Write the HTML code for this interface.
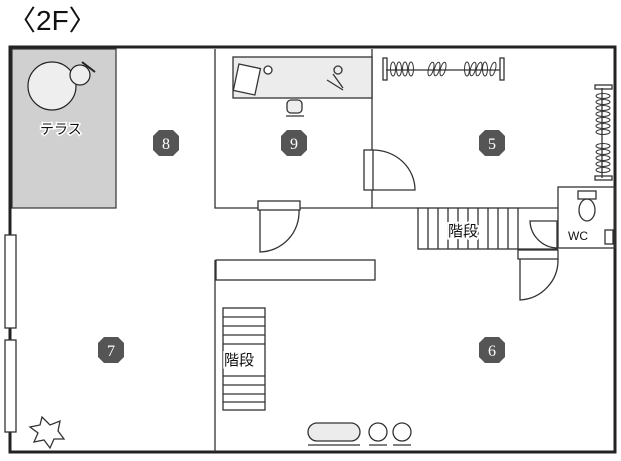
<!DOCTYPE html>
<html><head><meta charset="utf-8"><style>
html,body{margin:0;padding:0;background:#fff;width:621px;height:461px;overflow:hidden}
svg{display:block}
text{font-family:"Liberation Sans","Noto Sans CJK JP",sans-serif}
</style></head><body>
<svg width="621" height="461" viewBox="0 0 621 461" xmlns="http://www.w3.org/2000/svg">
<defs>
<g id="oct"><polygon points="-7,-13 7,-13 13,-7 13,7 7,13 -7,13 -13,7 -13,-7" fill="#555"/></g>
</defs>
<text x="8" y="30" font-size="28" fill="#111">〈2F〉</text>
<rect x="12" y="49" width="104" height="159" fill="#d0d0d0" stroke="#333" stroke-width="1.2"/>
<circle cx="52" cy="86" r="24" fill="#eee" stroke="#222" stroke-width="1.2"/>
<circle cx="80" cy="75" r="10" fill="#eee" stroke="#222" stroke-width="1.2"/>
<line x1="82" y1="62" x2="95" y2="72" stroke="#222" stroke-width="2"/>
<text x="40" y="134" font-size="14" fill="#111" stroke="#fff" stroke-width="3" paint-order="stroke">テラス</text>
<rect x="10" y="47" width="605" height="405" fill="none" stroke="#222" stroke-width="3"/>
<g stroke="#333" stroke-width="1.3" fill="none">
<path d="M215 49 V208 H258 M300 208 H372 V190 M372 150 V49"/>
<path d="M372 208 H418 M518 208 H558"/>
<rect x="418" y="208" width="100" height="41" fill="#fff"/>
<path d="M428 208v41M438 208v41M448 208v41M458 208v41M468 208v41M478 208v41M488 208v41M498 208v41M508 208v41"/>
<rect x="558" y="187" width="57" height="61"/>
<path d="M518 249 H558"/>
<rect x="258" y="201" width="42" height="9" fill="#fff"/>
<path d="M260 210 V252 A40 40 0 0 0 299 210"/>
<rect x="364" y="150" width="9" height="40" fill="#fff"/>
<path d="M373 150 A42 40 0 0 1 415 190 H373"/>
<path d="M530 221 A28 28 0 0 0 557 248 V221 Z"/>
<rect x="518" y="250" width="40" height="9" fill="#fff"/>
<path d="M520 259 V300 A40 40 0 0 0 558 259"/>
<rect x="216" y="260" width="159" height="20" fill="#fff"/>
<path d="M215 260 V452"/>
<rect x="223" y="308" width="42" height="102" fill="#fff"/>
<path d="M223 317h42M223 326h42M223 335h42M223 344h42M223 376h42M223 385h42M223 394h42M223 402h42"/>
<rect x="5" y="235" width="11" height="93" fill="#fff"/>
<rect x="5" y="340" width="11" height="92" fill="#fff"/>
<rect x="233" y="57" width="139" height="41" fill="#ececec"/>
<rect x="236" y="66" width="22" height="27" fill="#fff" transform="rotate(12 247 79)"/>
<circle cx="268" cy="70" r="4" fill="#fff"/>
<rect x="287" y="100" width="15" height="13" rx="4" fill="#eee"/>
<path d="M286 116h18"/>
<path d="M327 80 l16 10 M333 74 l10 14"/>
<circle cx="338" cy="70" r="4"/>
<path d="M386 70 H500"/>
<rect x="383" y="58" width="4" height="22"/><rect x="500" y="58" width="4" height="22"/>
<g stroke-width="1"><ellipse cx="393" cy="69" rx="2.5" ry="7"/><ellipse cx="399" cy="69" rx="2.5" ry="7"/><ellipse cx="405" cy="69" rx="2.5" ry="7"/><ellipse cx="411" cy="69" rx="2.5" ry="7"/><ellipse cx="431" cy="69" rx="2.5" ry="7" transform="rotate(15 431 69)"/><ellipse cx="437" cy="69" rx="2.5" ry="7" transform="rotate(15 437 69)"/><ellipse cx="443" cy="69" rx="2.5" ry="7" transform="rotate(15 443 69)"/><ellipse cx="467" cy="69" rx="2.5" ry="7"/><ellipse cx="473" cy="69" rx="2.5" ry="7" transform="rotate(15 473 69)"/><ellipse cx="479" cy="69" rx="2.5" ry="7" transform="rotate(15 479 69)"/><ellipse cx="485" cy="69" rx="2.5" ry="7"/><ellipse cx="493" cy="69" rx="2.5" ry="7" transform="rotate(15 493 69)"/></g>
<path d="M602 88 V178"/>
<rect x="595" y="85" width="17" height="4"/><rect x="595" y="176" width="17" height="4"/>
<g stroke-width="1"><ellipse cx="603" cy="96" rx="7" ry="2.5"/><ellipse cx="603" cy="102" rx="7" ry="2.5"/><ellipse cx="603" cy="108" rx="7" ry="2.5"/><ellipse cx="603" cy="114" rx="7" ry="2.5"/><ellipse cx="603" cy="120" rx="7" ry="2.5"/><ellipse cx="603" cy="126" rx="7" ry="2.5"/><ellipse cx="603" cy="132" rx="7" ry="2.5"/><ellipse cx="603" cy="146" rx="7" ry="2.5"/><ellipse cx="603" cy="152" rx="7" ry="2.5"/><ellipse cx="603" cy="158" rx="7" ry="2.5"/><ellipse cx="603" cy="164" rx="7" ry="2.5"/><ellipse cx="603" cy="170" rx="7" ry="2.5"/></g>
<rect x="578" y="191" width="18" height="8"/>
<ellipse cx="587" cy="210" rx="8" ry="11"/>
<rect x="605" y="230" width="8" height="14"/>
<rect x="308" y="423" width="52" height="18" rx="9" fill="#ececec"/>
<circle cx="378" cy="432" r="9"/><circle cx="402" cy="432" r="9"/>
<path d="M308 445h52M369 445h18M393 445h18"/>
<path d="M42 417 l8 8 l10 -4 l-2 10 l6 8 l-10 0 l-4 9 l-6 -8 l-10 2 l4 -9 l-8 -6 l10 -2 z" fill="#fff"/>
</g>
<text x="448" y="236" font-size="15" fill="#111" stroke="#fff" stroke-width="4" paint-order="stroke">階段</text>
<text x="224" y="365" font-size="15" fill="#111" stroke="#fff" stroke-width="4" paint-order="stroke">階段</text>
<text x="568" y="240" font-size="12" fill="#111">WC</text>
<g font-size="16" fill="#fff" text-anchor="middle">
<use href="#oct" x="166" y="143"/><text x="166" y="149" style="font-family:'Liberation Serif',serif">8</text>
<use href="#oct" x="294" y="143"/><text x="294" y="149" style="font-family:'Liberation Serif',serif">9</text>
<use href="#oct" x="492" y="143"/><text x="492" y="149" style="font-family:'Liberation Serif',serif">5</text>
<use href="#oct" x="111" y="350"/><text x="111" y="356" style="font-family:'Liberation Serif',serif">7</text>
<use href="#oct" x="492" y="350"/><text x="492" y="356" style="font-family:'Liberation Serif',serif">6</text>
</g>
</svg>
</body></html>
